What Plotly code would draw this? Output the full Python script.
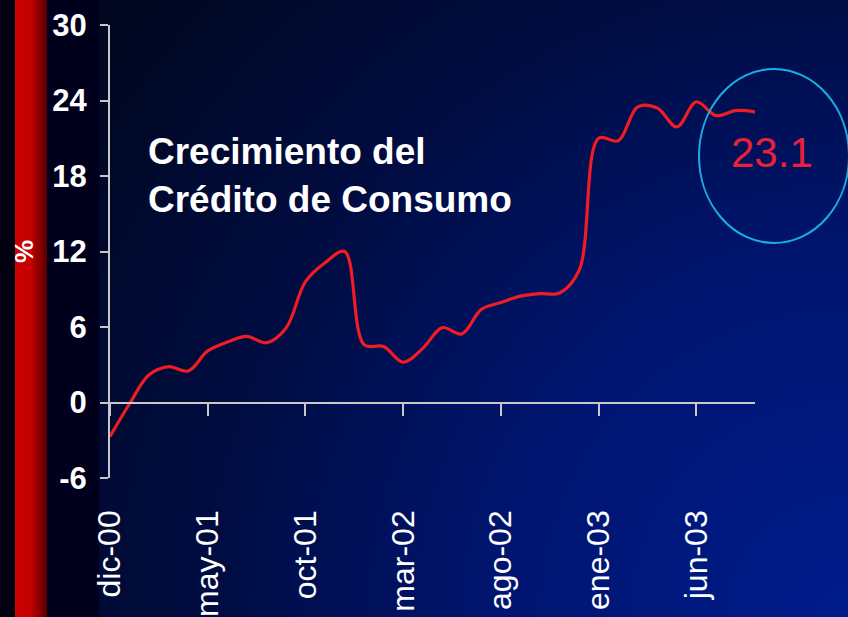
import base64
import plotly.graph_objects as go

# ---- data ----
months = ["dic-00", "ene-01", "feb-01", "mar-01", "abr-01", "may-01", "jun-01", "jul-01",
          "ago-01", "sep-01", "oct-01", "nov-01", "dic-01", "ene-02", "feb-02", "mar-02",
          "abr-02", "may-02", "jun-02", "jul-02", "ago-02", "sep-02", "oct-02", "nov-02",
          "dic-02", "ene-03", "feb-03", "mar-03", "abr-03", "may-03", "jun-03", "jul-03",
          "ago-03", "sep-03"]
growth = [-2.7, -0.1, 2.2, 2.85, 2.5, 4.1, 4.8, 5.25,
          4.75, 5.9, 9.6, 11.1, 12.0, 4.6, 4.45, 3.2,
          4.3, 5.95, 5.45, 7.4, 7.95, 8.45, 8.65, 8.7,
          10.5, 21.0, 20.8, 23.5, 23.4, 21.9, 23.9, 22.8,
          23.2, 23.1]
tick_labels = ["dic-00", "may-01", "oct-01", "mar-02", "ago-02", "ene-03", "jun-03"]
y_ticks = [-6, 0, 6, 12, 18, 24, 30]
y_tick_text = ["-6", "0", "6", "12", "18", "24", "30"]
last_value_text = "23.1"

# ---- background (gradient slide) ----
W, H = 848, 617
L, R, T, B = 110, 93, 25, 139
pw, ph = W - L - R, H - T - B

svg = f"""<svg xmlns='http://www.w3.org/2000/svg' width='{W}' height='{H}' viewBox='0 0 {W} {H}' preserveAspectRatio='none'>
<defs>
<radialGradient id='bg' gradientUnits='userSpaceOnUse' cx='{W}' cy='{H}' r='1000'>
<stop offset='0' stop-color='#001c8c'/>
<stop offset='0.35' stop-color='#001570'/>
<stop offset='0.65' stop-color='#000c40'/>
<stop offset='1' stop-color='#00061a'/>
</radialGradient>
<linearGradient id='red' x1='0' x2='1' y1='0' y2='0'>
<stop offset='0' stop-color='#cc0000'/>
<stop offset='0.5' stop-color='#c20000'/>
<stop offset='1' stop-color='#580000'/>
</linearGradient>
</defs>
<rect width='{W}' height='{H}' fill='url(#bg)'/>
<rect x='0' y='0' width='99' height='{H}' fill='#00001c'/>
<rect x='0' y='0' width='15' height='{H}' fill='#000010'/>
<rect x='15' y='0' width='32' height='{H}' fill='url(#red)'/>
</svg>"""
src = "data:image/svg+xml;base64," + base64.b64encode(svg.encode()).decode()

def px(xp):
    return (xp - L) / pw

def py(yp):
    return (H - B - yp) / ph

fig = go.Figure()
fig.add_trace(go.Scatter(
    x=months, y=growth, mode="lines",
    line=dict(color="#f01c24", width=3.2, shape="spline", smoothing=1.0),
    hoverinfo="x+y", showlegend=False,
))

axis_col = "#c8c8c8"
font_fam = "Arial, Liberation Sans, Helvetica, sans-serif"

fig.update_layout(
    width=W, height=H,
    margin=dict(l=L, r=R, t=T, b=B, pad=0),
    paper_bgcolor="#000a30",
    plot_bgcolor="rgba(0,0,0,0)",
    images=[dict(source=src, xref="paper", yref="paper",
                 x=px(0), y=py(0), sizex=W / pw, sizey=H / ph,
                 xanchor="left", yanchor="top", sizing="stretch", layer="below")],
    xaxis=dict(
        type="category", range=[0, len(months) - 1],
        tickmode="array", tickvals=tick_labels, ticktext=tick_labels,
        tickangle=-90, ticks="outside", ticklen=12, tickwidth=2, tickcolor=axis_col,
        showline=True, linecolor=axis_col, linewidth=2,
        anchor="free", position=(0 - y_ticks[0]) / (y_ticks[-1] - y_ticks[0]),
        showgrid=False, zeroline=False, automargin=False,
        ticklabelstandoff=82,
        tickfont=dict(family=font_fam, size=32, color="white"),
    ),
    yaxis=dict(
        range=[y_ticks[0], y_ticks[-1]], tickmode="array", tickvals=y_ticks,
        ticktext=y_tick_text,
        ticks="outside", ticklen=8, tickwidth=2, tickcolor=axis_col,
        showline=True, linecolor=axis_col, linewidth=2,
        showgrid=False, zeroline=False, automargin=False,
        ticklabelstandoff=7,
        tickfont=dict(family=font_fam, size=31, color="white", weight="bold"),
    ),
    annotations=[
        dict(text="Crecimiento del<br>Crédito de Consumo", xref="paper", yref="paper",
             x=px(146), y=py(175), xanchor="left", yanchor="middle", align="left",
             showarrow=False, font=dict(family=font_fam, size=37, color="white", weight="bold")),
        dict(text=last_value_text, xref="paper", yref="paper",
             x=px(772), y=py(152), xanchor="center", yanchor="middle",
             showarrow=False, font=dict(family=font_fam, size=42, color="#e8203c")),
        dict(text="%", xref="paper", yref="paper", textangle=-90,
             x=px(24), y=py(252), xanchor="center", yanchor="middle",
             showarrow=False, font=dict(family=font_fam, size=26, color="white", weight="bold")),
    ],
    shapes=[
        dict(type="circle", xref="paper", yref="paper",
             x0=px(699), x1=px(849), y0=py(243), y1=py(69),
             line=dict(color="#1aaee6", width=2)),
    ],
)

fig.write_html(
    "out.html",
    config={"displayModeBar": False},
    post_script="document.body.style.margin='0';document.body.style.padding='0';"
                "document.documentElement.style.overflow='hidden';",
)
